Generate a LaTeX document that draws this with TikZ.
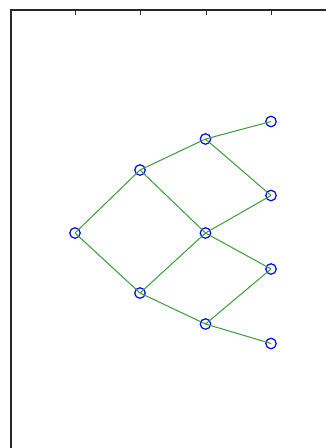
\documentclass[tikz,border=0pt]{standalone}
\begin{document}
\begin{tikzpicture}[x=1pt,y=-1pt,
  vert/.style={circle,draw=blue,line width=1.2pt,inner sep=0pt,minimum size=10.5pt},
  edge/.style={draw={rgb,255:red,60;green,155;blue,60},line width=1pt},
  frame/.style={draw={rgb,255:red,40;green,40;blue,40},line width=1.3pt}]
\useasboundingbox (0,0) rectangle (326,448);
\fill[white] (0,0) rectangle (326,448);
% axes frame
\coordinate (tl) at (11,10);
\coordinate (bl) at (11,448);
\coordinate (tr) at (326,10);
\draw[frame] (bl) -- (tl) -- (tr);
\foreach \t in {75,140,206,271}{
  \draw[frame,line width=1pt] (\t,10) -- (\t,15);
}
% vertices
\node[vert] (A) at (75,233) {};
\node[vert] (B) at (140,170) {};
\node[vert] (C) at (140,293) {};
\node[vert] (D) at (205.5,139) {};
\node[vert] (E) at (205.5,233) {};
\node[vert] (F) at (205.5,324) {};
\node[vert] (G) at (271,121.5) {};
\node[vert] (H) at (271,195.5) {};
\node[vert] (I) at (271,269) {};
\node[vert] (J) at (271,343.5) {};
% edges
\foreach \a/\b in {A/B,A/C,B/D,B/E,C/E,C/F,D/G,D/H,E/H,E/I,F/I,F/J}{
  \draw[edge] (\a.center) -- (\b.center);
}
\end{tikzpicture}
\end{document}
